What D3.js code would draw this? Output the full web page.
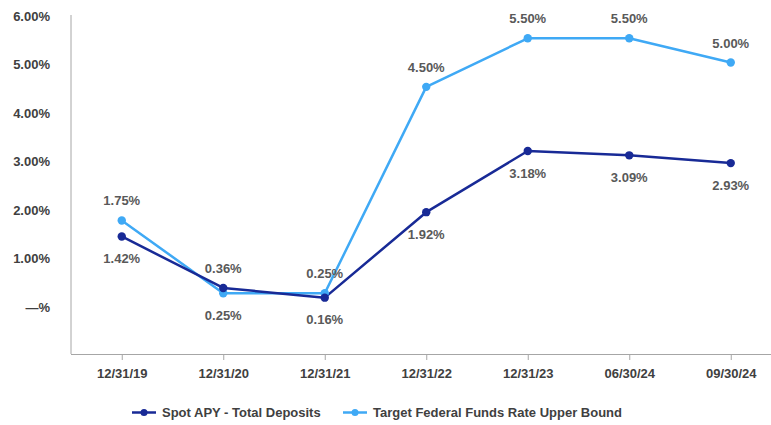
<!DOCTYPE html>
<html>
<head>
<meta charset="utf-8">
<script src="https://cdn.jsdelivr.net/npm/d3@7"></script>
<style>
  html, body { margin: 0; padding: 0; background: #fff; }
  svg { display: block; font-family: "Liberation Sans", Arial, sans-serif; }
</style>
</head>
<body>
<svg id="chart" width="771" height="425"></svg>
<script>
const categories = ["12/31/19", "12/31/20", "12/31/21", "12/31/22", "12/31/23", "06/30/24", "09/30/24"];
const spotAPY = [1.42, 0.36, 0.16, 1.92, 3.18, 3.09, 2.93];
const fedFunds = [1.75, 0.25, 0.25, 4.50, 5.50, 5.50, 5.00];
const spotLabelPos = ["below", "above", "below", "below", "below", "below", "below"];
const fedLabelPos = ["above", "below", "above", "above", "above", "above", "above"];
const yTicks = [0, 1, 2, 3, 4, 5, 6];
const seriesNames = ["Spot APY - Total Deposits", "Target Federal Funds Rate Upper Bound"];

const svg = d3.select("#chart");
const colors = ["#182a96", "#3fa9f5"];
const labelColor = "#595959";
const axisTextColor = "#404040";

const x = d3.scalePoint().domain(categories).range([71, 781.5]).padding(0.5);
const y = d3.scaleLinear().domain([-1, 6]).range([354, 14]);

// Axes
const yAxisG = svg.append("g");
yAxisG.append("line")
  .attr("x1", 71).attr("x2", 71)
  .attr("y1", y(6) + 1).attr("y2", y(-1))
  .attr("stroke", "#a6a6a6").attr("stroke-width", 1);
yAxisG.selectAll("text").data(yTicks).join("text")
  .attr("x", 50).attr("y", d => y(d) + 2)
  .attr("dy", "0.35em")
  .attr("text-anchor", "end")
  .attr("font-size", 13).attr("font-weight", "bold")
  .attr("fill", axisTextColor)
  .text(d => d === 0 ? "\u2014%" : d.toFixed(2) + "%");

const xAxis = d3.axisBottom(x).tickSize(6).tickSizeOuter(0).tickPadding(9);
const xAxisG = svg.append("g").attr("transform", `translate(0,${y(-1)})`).call(xAxis);
xAxisG.select(".domain").attr("stroke", "#a6a6a6").attr("d", "M71,0.5H771");
xAxisG.selectAll(".tick line").attr("stroke", "#a6a6a6");
xAxisG.selectAll(".tick text")
  .attr("font-size", 13).attr("font-weight", "bold")
  .attr("font-family", "'Liberation Sans', Arial, sans-serif")
  .attr("fill", axisTextColor);

// Lines
const series = [
  { values: fedFunds, color: colors[1], pos: fedLabelPos },
  { values: spotAPY, color: colors[0], pos: spotLabelPos }
];
const line = d3.line().x((d, i) => x(categories[i])).y(d => y(d));

series.forEach(s => {
  svg.append("path").datum(s.values)
    .attr("d", line)
    .attr("fill", "none")
    .attr("stroke", s.color)
    .attr("stroke-width", 2.5)
    .attr("stroke-linejoin", "round");
});
series.forEach(s => {
  svg.append("g").selectAll("circle").data(s.values).join("circle")
    .attr("cx", (d, i) => x(categories[i]))
    .attr("cy", d => y(d))
    .attr("r", 4.2)
    .attr("fill", s.color);
});
series.forEach(s => {
  svg.append("g").selectAll("text").data(s.values).join("text")
    .attr("x", (d, i) => x(categories[i]))
    .attr("y", (d, i) => y(d) + (s.pos[i] === "above" ? -19.5 : 22))
    .attr("dy", "0.35em")
    .attr("text-anchor", "middle")
    .attr("font-size", 13).attr("font-weight", "bold")
    .attr("fill", labelColor)
    .text(d => d.toFixed(2) + "%");
});

// Legend
const legendItems = [
  { name: seriesNames[0], color: colors[0], x: 132 },
  { name: seriesNames[1], color: colors[1], x: 343 }
];
const lg = svg.append("g");
legendItems.forEach(it => {
  const g = lg.append("g").attr("transform", `translate(${it.x},412.5)`);
  g.append("line").attr("x1", 0).attr("x2", 24).attr("y1", 0).attr("y2", 0)
    .attr("stroke", it.color).attr("stroke-width", 2.5);
  g.append("circle").attr("cx", 12).attr("cy", 0).attr("r", 3.5).attr("fill", it.color);
  g.append("text").attr("x", 30).attr("y", 0).attr("dy", "0.35em")
    .attr("font-size", 13).attr("font-weight", "bold")
    .attr("fill", axisTextColor)
    .text(it.name);
});
</script>
</body>
</html>
